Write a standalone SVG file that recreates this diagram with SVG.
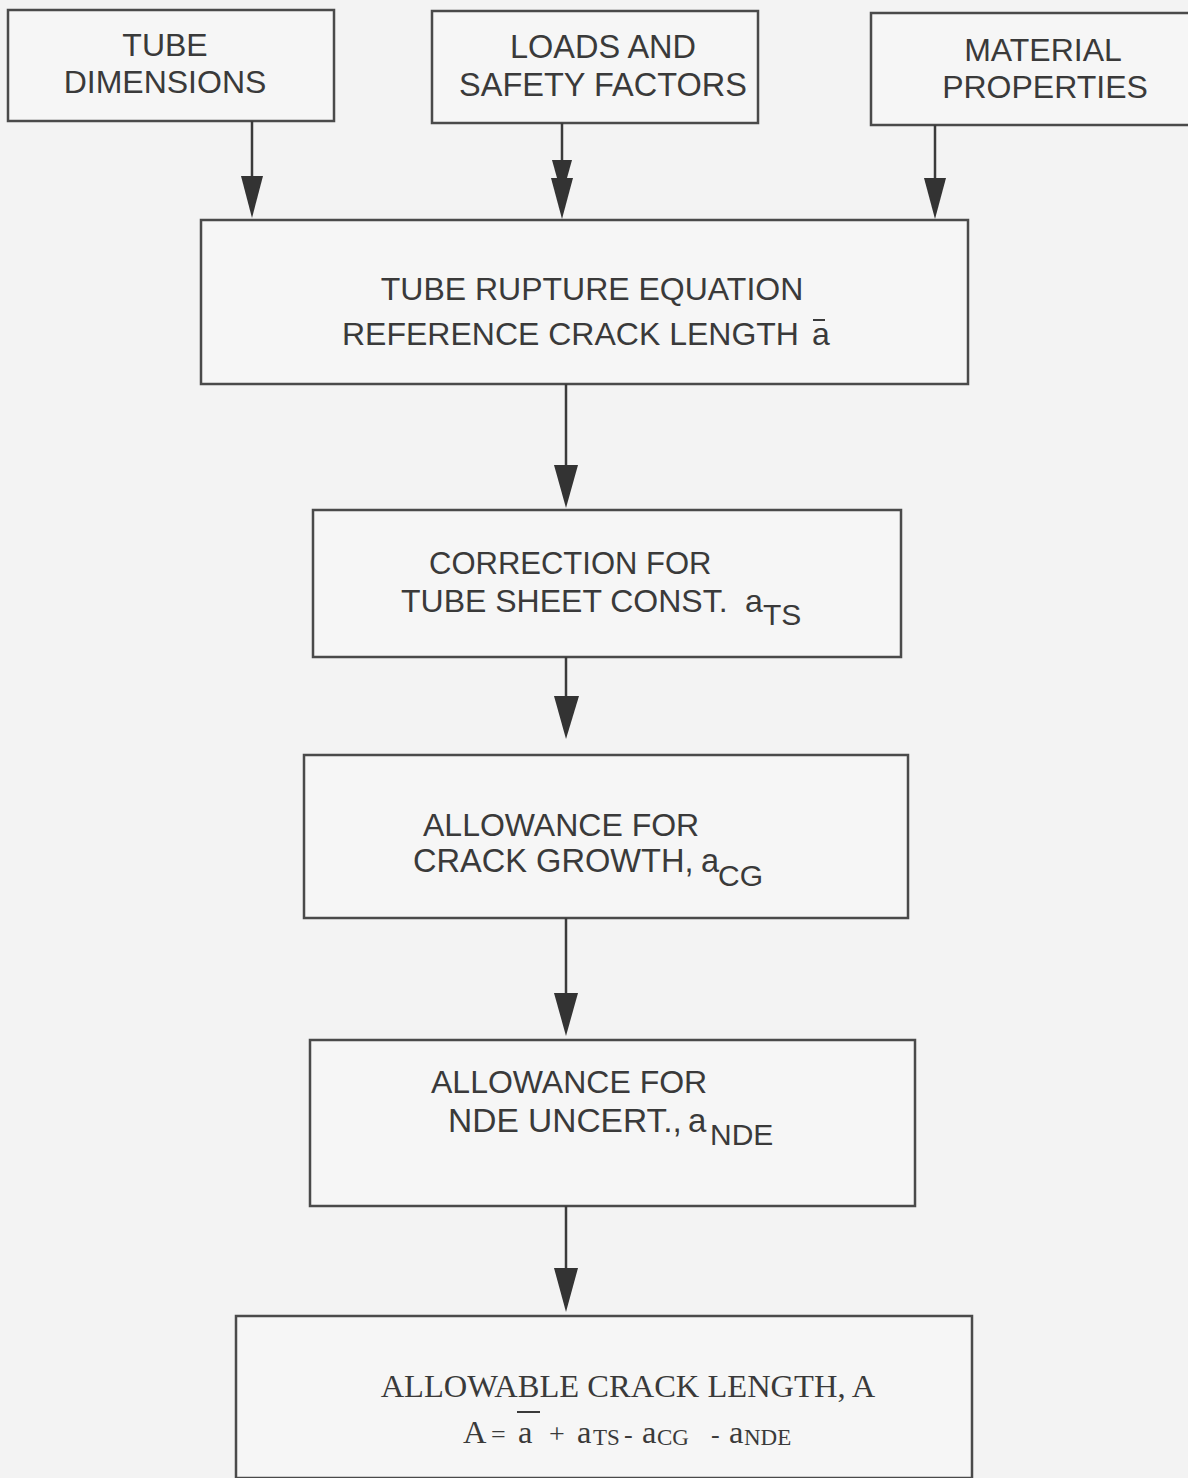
<svg xmlns="http://www.w3.org/2000/svg" width="1188" height="1478" viewBox="0 0 1188 1478">
<style>
.bg{fill:#f3f3f3}
.box{fill:#f6f6f6;stroke:#4a4a4a;stroke-width:2.5}
.t{font-family:"Liberation Sans",Arial,sans-serif;font-size:32px;fill:#3a3a3a}
.c{text-anchor:middle}
.sub{font-size:30px}
.s{font-family:"Liberation Serif","Times New Roman",serif;font-size:32.5px;fill:#3a3a3a}
.ss{font-family:"Liberation Serif","Times New Roman",serif;font-size:23px;fill:#3a3a3a}
.ln{stroke:#3a3a3a;stroke-width:2.5;fill:none}
.ob{stroke:#3a3a3a;stroke-width:2;fill:none}
.hd{fill:#333}
</style>
<rect class="bg" x="0" y="0" width="1188" height="1478"/>
<g id="tube-dimensions">
<rect class="box" x="8" y="10" width="326" height="111"/>
<text class="t c" x="165" y="56">TUBE</text>
<text class="t c" x="165" y="93">DIMENSIONS</text>
</g>
<g id="loads-safety">
<rect class="box" x="432" y="11" width="326" height="112"/>
<text class="t c" x="603" y="58" style="font-size:32.5px">LOADS AND</text>
<text class="t c" x="603" y="96" style="font-size:32.5px">SAFETY FACTORS</text>
</g>
<g id="material-properties">
<rect class="box" x="871" y="13" width="330" height="112"/>
<text class="t c" x="1043" y="61">MATERIAL</text>
<text class="t c" x="1045" y="98">PROPERTIES</text>
</g>
<g id="tube-rupture">
<rect class="box" x="201" y="220" width="767" height="164"/>
<text class="t c" x="592" y="300">TUBE RUPTURE EQUATION</text>
<text class="t" x="342" y="345">REFERENCE CRACK LENGTH</text>
<text class="t" x="812" y="345">a</text>
<line class="ob" x1="813" y1="320" x2="825" y2="320"/>
</g>
<g id="correction">
<rect class="box" x="313" y="510" width="588" height="147"/>
<text class="t" x="429" y="574" style="font-size:31px">CORRECTION FOR</text>
<text class="t" x="401" y="612" style="font-size:32px">TUBE SHEET CONST.</text>
<text class="t" x="745" y="612">a</text>
<text class="t sub" x="763" y="625">TS</text>
</g>
<g id="allowance-cg">
<rect class="box" x="304" y="755" width="604" height="163"/>
<text class="t" x="423" y="836">ALLOWANCE FOR</text>
<text class="t" x="413" y="872" style="font-size:32.6px">CRACK GROWTH,</text>
<text class="t" x="701" y="872" style="font-size:32.6px">a</text>
<text class="t sub" x="718" y="886">CG</text>
</g>
<g id="allowance-nde">
<rect class="box" x="310" y="1040" width="605" height="166"/>
<text class="t" x="431" y="1093">ALLOWANCE FOR</text>
<text class="t" x="448" y="1132" style="font-size:33.5px">NDE UNCERT.,</text>
<text class="t" x="688" y="1132" style="font-size:33px">a</text>
<text class="t sub" x="710" y="1145">NDE</text>
</g>
<g id="allowable">
<rect class="box" x="236" y="1316" width="736" height="162"/>
<text class="s c" x="628" y="1397">ALLOWABLE CRACK LENGTH, A</text>
<text class="s" x="463" y="1443">A</text>
<text class="s" x="491" y="1443" style="font-size:26px">=</text>
<text class="s" x="518" y="1443">a</text>
<line class="ob" x1="517" y1="1412" x2="540" y2="1412"/>
<text class="s" x="549" y="1443" style="font-size:28px">+</text>
<text class="s" x="577" y="1443">a</text>
<text class="ss" x="593" y="1445">TS</text>
<text class="s" x="624" y="1443" style="font-size:26px">-</text>
<text class="s" x="642" y="1443">a</text>
<text class="ss" x="657" y="1445">CG</text>
<text class="s" x="711" y="1443" style="font-size:26px">-</text>
<text class="s" x="729" y="1443">a</text>
<text class="ss" x="744" y="1445">NDE</text>
</g>
<g id="connectors">
<line class="ln" x1="252" y1="121" x2="252" y2="200"/>
<polygon class="hd" points="241,176 263,176 252,218"/>
<line class="ln" x1="562" y1="123" x2="562" y2="200"/>
<polygon class="hd" points="552,160 572,160 562,196"/>
<polygon class="hd" points="551,178 573,178 562,219"/>
<line class="ln" x1="935" y1="125" x2="935" y2="200"/>
<polygon class="hd" points="924,178 946,178 935,219"/>
<line class="ln" x1="566" y1="384" x2="566" y2="480"/>
<polygon class="hd" points="554,465 578,465 566,508"/>
<line class="ln" x1="566" y1="657" x2="566" y2="710"/>
<polygon class="hd" points="554,696 579,696 566,739"/>
<line class="ln" x1="566" y1="918" x2="566" y2="1000"/>
<polygon class="hd" points="554,993 578,993 566,1036"/>
<line class="ln" x1="566" y1="1206" x2="566" y2="1280"/>
<polygon class="hd" points="554,1268 578,1268 566,1312"/>
</g>
</svg>
